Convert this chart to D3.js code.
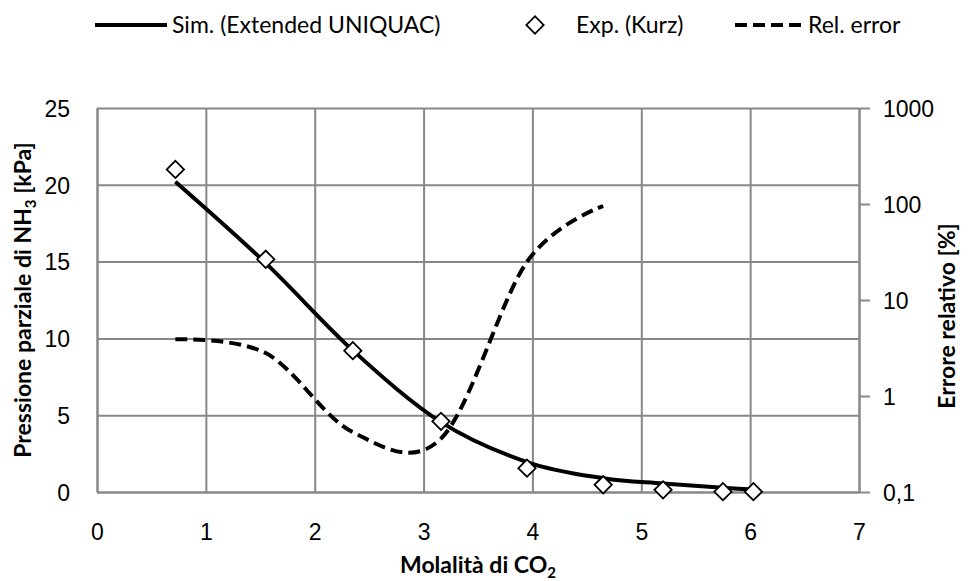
<!DOCTYPE html>
<html>
<head>
<meta charset="utf-8">
<script src="https://cdn.jsdelivr.net/npm/d3@7"></script>
<style>
  body { margin: 0; background: #fff; }
  svg { display: block; font-family: Lato, "Open Sans", sans-serif; }
  .axis text { font-size: 23px; fill: #000; }
  .axis path, .axis line { stroke: #878787; stroke-width: 2px; }
  .grid line { stroke: #878787; stroke-width: 2px; }
  .grid path { display: none; }
</style>
</head>
<body>
<svg id="chart" width="976" height="581"></svg>
<script>
// molality of CO2 for each measured point
const molality = [0.72, 1.55, 2.35, 3.16, 3.95, 4.65, 5.2, 5.75, 6.03];
// partial pressure of NH3 [kPa]
const expPressure = [21.0, 15.15, 9.2, 4.6, 1.55, 0.47, 0.14, 0.02, 0.02];
const simPressure = [20.2, 14.9, 9.22, 4.55, 1.95, 0.9, 0.56, 0.28, 0.17];
// relative error [%], only the first six points
const relError = [3.9, 2.8, 0.42, 0.36, 25, 95];

const xTicks = [0, 1, 2, 3, 4, 5, 6, 7];
const yTicks = [0, 5, 10, 15, 20, 25];
const y2Ticks = [0.1, 1, 10, 100, 1000];

const svg = d3.select("#chart");
const pLeft = 97, pRight = 859, pTop = 108, pBottom = 492;

const x = d3.scaleLinear().domain([0, 7]).range([pLeft, pRight]);
const y = d3.scaleLinear().domain([0, 25]).range([pBottom, pTop]);
const y2 = d3.scaleLog().domain([0.1, 1000]).range([pBottom, pTop]);

const it = d3.formatLocale({decimal: ",", thousands: ".", grouping: [3], currency: ["", "€"]});
const fmt = it.format("~g");

// grid
svg.append("g").attr("class", "grid")
  .attr("transform", `translate(0,${pBottom})`)
  .call(d3.axisBottom(x).tickValues(xTicks).tickSize(-(pBottom - pTop)).tickFormat(""));
svg.append("g").attr("class", "grid")
  .attr("transform", `translate(${pLeft},0)`)
  .call(d3.axisLeft(y).tickValues(yTicks).tickSize(-(pRight - pLeft)).tickFormat(""));

// axes
svg.append("g").attr("class", "axis")
  .attr("transform", `translate(0,${pBottom})`)
  .call(d3.axisBottom(x).tickValues(xTicks).tickFormat(d3.format("d")).tickSize(0).tickSizeOuter(0).tickPadding(32));
svg.append("g").attr("class", "axis")
  .attr("transform", `translate(${pLeft},0)`)
  .call(d3.axisLeft(y).tickValues(yTicks).tickFormat(d3.format("d")).tickSize(0).tickSizeOuter(0).tickPadding(27))
  .selectAll("text").attr("dy", "0.36em");
svg.append("g").attr("class", "axis")
  .attr("transform", `translate(${pRight},0)`)
  .call(d3.axisRight(y2).tickValues(y2Ticks).tickFormat(fmt).tickSize(11).tickSizeOuter(0).tickPadding(13))
  .selectAll("text").attr("dy", "0.36em");

// series
const simLine = d3.line()
  .x((d, i) => x(molality[i]))
  .y(d => y(d))
  .curve(d3.curveCardinal.tension(0));
svg.append("path")
  .attr("d", simLine(simPressure))
  .attr("fill", "none")
  .attr("stroke", "#000")
  .attr("stroke-width", 4);

const diamond = d3.symbol().type(d3.symbolSquare).size(150);
svg.append("g").selectAll("path")
  .data(expPressure)
  .join("path")
  .attr("d", diamond)
  .attr("transform", (d, i) => `translate(${x(molality[i])},${y(d)}) rotate(45)`)
  .attr("fill", "#fff")
  .attr("stroke", "#000")
  .attr("stroke-width", 1.8);

const errLine = d3.line()
  .x((d, i) => x(molality[i]))
  .y(d => y2(d))
  .curve(d3.curveCardinal.tension(0));
svg.append("path")
  .attr("d", errLine(relError))
  .attr("fill", "none")
  .attr("stroke", "#000")
  .attr("stroke-width", 4)
  .attr("stroke-dasharray", "12,6");

// axis titles
const xt = svg.append("text")
  .attr("x", (pLeft + pRight) / 2).attr("y", 573)
  .attr("text-anchor", "middle")
  .style("font-size", "23px").style("font-weight", "bold");
xt.append("tspan").text("Molalità di CO");
xt.append("tspan").text("2").style("font-size", "15px").attr("dy", 5);

const yt = svg.append("text")
  .attr("transform", `translate(31,${(pTop + pBottom) / 2}) rotate(-90)`)
  .attr("text-anchor", "middle")
  .style("font-size", "23px").style("font-weight", "bold");
yt.append("tspan").text("Pressione parziale di NH");
yt.append("tspan").text("3").style("font-size", "15px").attr("dy", 5);
yt.append("tspan").text(" [kPa]").attr("dy", -5);

svg.append("text")
  .attr("transform", `translate(955,316) rotate(-90)`)
  .attr("text-anchor", "middle")
  .style("font-size", "23px").style("font-weight", "bold")
  .text("Errore relativo [%]");

// legend
const leg = svg.append("g");
leg.append("line").attr("x1", 95).attr("x2", 167).attr("y1", 25).attr("y2", 25)
  .attr("stroke", "#000").attr("stroke-width", 4);
leg.append("text").attr("x", 172).attr("y", 33).style("font-size", "23px").text("Sim. (Extended UNIQUAC)");
leg.append("path").attr("d", diamond).attr("transform", "translate(535,25) rotate(45)")
  .attr("fill", "#fff").attr("stroke", "#000").attr("stroke-width", 1.8);
leg.append("text").attr("x", 576).attr("y", 33).style("font-size", "23px").text("Exp. (Kurz)");
leg.append("line").attr("x1", 735).attr("x2", 806).attr("y1", 25).attr("y2", 25)
  .attr("stroke", "#000").attr("stroke-width", 4).attr("stroke-dasharray", "12,6");
leg.append("text").attr("x", 808).attr("y", 33).style("font-size", "23px").text("Rel. error");
</script>
</body>
</html>
